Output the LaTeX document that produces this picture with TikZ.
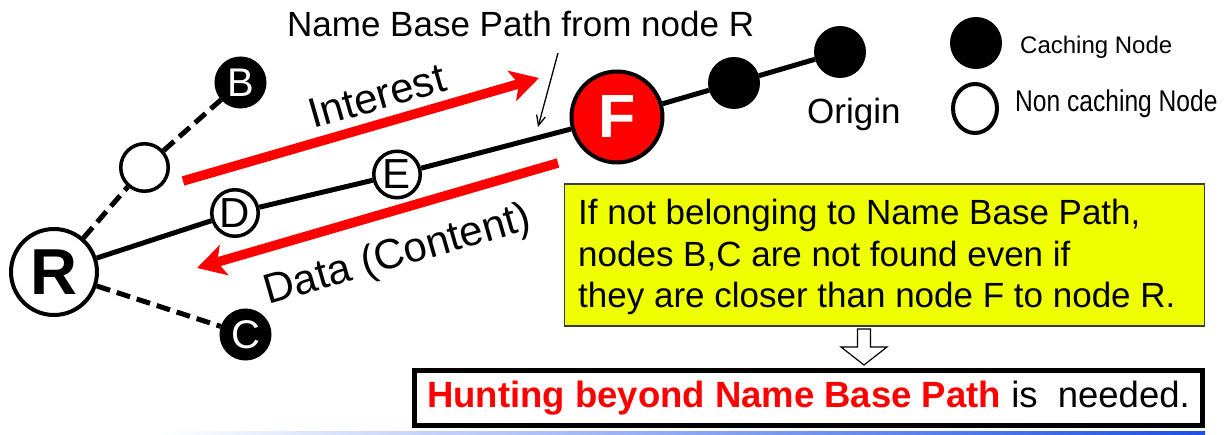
\documentclass[tikz,border=0pt]{standalone}
\usepackage{fontspec}
\setmainfont{Liberation Sans}
\usetikzlibrary{arrows.meta,shapes.geometric}
\definecolor{hiyellow}{RGB}{240,255,0}
\definecolor{barblue}{RGB}{30,80,230}
\definecolor{boxedge}{RGB}{60,60,60}
\newcommand\fsz[1]{\fontsize{#1}{#1}\selectfont}

\begin{document}
\begin{tikzpicture}[x=1pt,y=-1pt,
  plainnode/.style={circle,draw=black,fill=white,line width=3.5pt,inner sep=0pt,minimum size=#1},
  plainnode/.default=47pt,
  cachenode/.style={circle,draw=black,fill=black,line width=2pt,inner sep=0pt,minimum size=#1,text=white},
  cachenode/.default=50pt,
  pathline/.style={line width=5pt},
  sideline/.style={line width=5pt,dash pattern=on 14pt off 7pt},
  flowarrow/.style={red,line width=9.5pt,-{Stealth[length=28pt,width=31pt,inset=7pt]}},
]
\useasboundingbox (0,0) rectangle (1227,435);
\fill[white] (0,0) rectangle (1227,435);

% network nodes
\node[plainnode=86pt,line width=4pt,font=\fsz{65}\bfseries] (R) at (54,272) {R};
\node[plainnode=47.5pt] (N) at (144.5,167.5) {};
\node[cachenode=50pt,font=\fsz{40}] (B) at (240.5,82.5) {B};
\node[cachenode=50pt,font=\fsz{40}] (C) at (245.5,334.5) {C};
\node[plainnode=46.5pt,font=\fsz{42}] (D) at (235,213) {D};
\node[plainnode=46.5pt,font=\fsz{42}] (E) at (397,174.5) {E};
\node[circle,draw=black,fill=red,line width=4pt,inner sep=0pt,minimum size=91pt,
      text=white,font=\fsz{61}\bfseries] (F) at (617,117) {F};
\node[cachenode=50pt] (K1) at (734,83) {};
\node[cachenode=50pt] (K2) at (840,52) {};

% name based path and side branches
\draw[pathline] (R) -- (D) -- (E) -- (F) -- (K1) -- (K2);
\draw[sideline] (R) -- (N) -- (B);
\draw[sideline] (R) -- (C);

% interest and data flows
\coordinate (iS) at (183,181);
\coordinate (iE) at (539,78);
\coordinate (dS) at (558,163);
\coordinate (dE) at (197,268);
\draw[flowarrow] (iS) -- (iE);
\draw[flowarrow] (dS) -- (dE);
\node[font=\fsz{42},rotate=16] (int) at (377,96) {Interest};
\node[font=\fsz{42},rotate=16] (dat) at (398,256) {Data (Content)};

% path label with pointer
\node[font=\fsz{35},anchor=base west,inner sep=0pt] (lbl) at (287,37) {Name Base Path from node R};
\coordinate (pA) at (558,53);
\coordinate (pB) at (538,127);
\draw[line width=1.3pt,-{Straight Barb[length=10pt,width=9pt]}] (pA) -- (pB);

\node[font=\fsz{35},anchor=base west,inner sep=0pt] (orig) at (807,124) {Origin};

% legend
\node[cachenode=50pt] (LC) at (976,43) {};
\node[ellipse,draw=black,fill=white,line width=4pt,inner sep=0pt,minimum width=44pt,minimum height=49pt] (LN) at (975,108.5) {};
\node[font=\fsz{24},anchor=base west,inner sep=0pt] (LCt) at (1020,54) {Caching Node};
\node[font=\fsz{30},anchor=base west,inner sep=0pt,xscale=0.82] (LNt) at (1015,112) {Non caching Node};

% explanation box
\node[draw=boxedge,fill=hiyellow,line width=1.2pt,minimum width=640pt,minimum height=142pt,
      inner sep=0pt,anchor=north west] (ybox) at (563.5,183.5) {};
\node[font=\fontsize{35}{41.5}\selectfont,align=left,anchor=west,inner sep=0pt] (ytxt) at (578,257)
  {If not belonging to Name Base Path,\\nodes B,C are not found even if\\they are closer than node F to node R.};

% hollow down arrow
\draw[line width=1.2pt,fill=white] (857.5,329) -- (870.5,329) -- (870.5,347) -- (887,347)
  -- (864,365) -- (841,347) -- (857.5,347) -- cycle;

% conclusion box
\node[draw=black,line width=5pt,minimum width=788pt,minimum height=55pt,inner sep=0pt,
      font=\fsz{36.5}] (hbox) at (808.5,398)
  {\textcolor{red}{\bfseries Hunting beyond Name Base Path} is\ \ needed.};

% footer rule
\shade[left color=white,right color=barblue] (160,432) rectangle (1205,435);
\end{tikzpicture}
\end{document}
